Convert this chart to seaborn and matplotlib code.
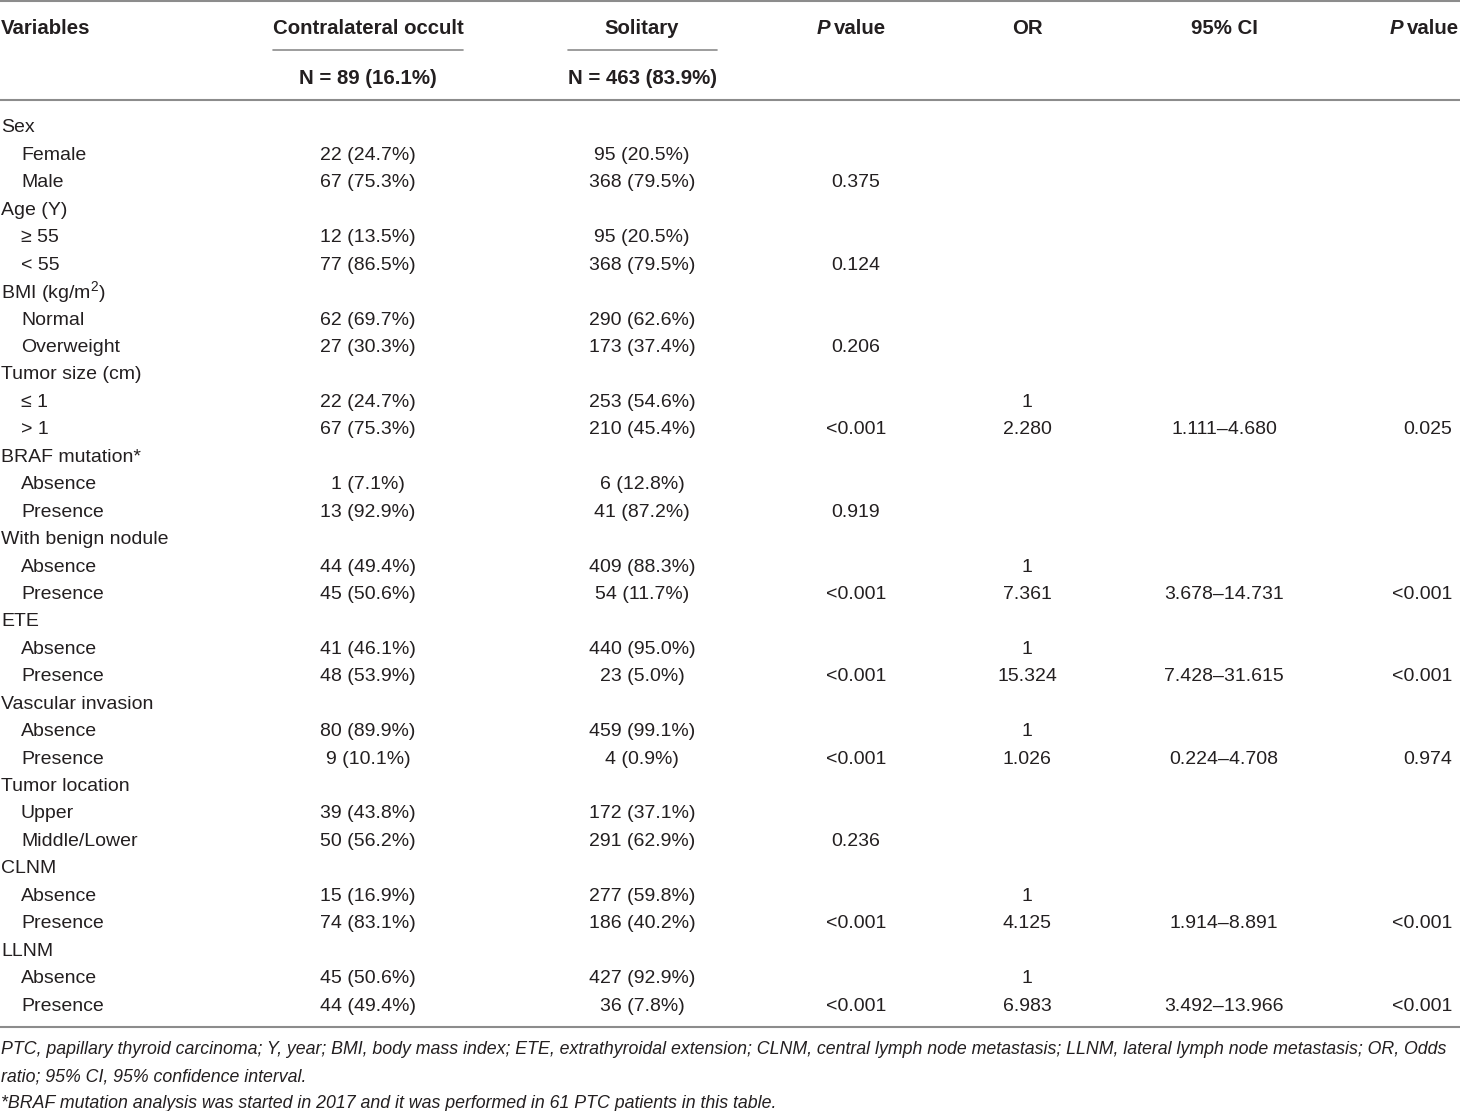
import matplotlib
matplotlib.use("Agg")
import matplotlib.pyplot as plt
import seaborn as sns

sns.set_theme(style="white")
plt.rcParams["font.family"] = ["Liberation Sans", "DejaVu Sans"]
plt.rcParams["mathtext.fontset"] = "custom"
plt.rcParams["mathtext.rm"] = "Liberation Sans"

labels = ["Sex", "Female", "Male",
          "Age (Y)", "\u2265 55", "< 55",
          "BMI (kg/m$^2$)", "Normal", "Overweight",
          "Tumor size (cm)", "\u2264 1", "> 1",
          "BRAF mutation*", "Absence", "Presence",
          "With benign nodule", "Absence", "Presence",
          "ETE", "Absence", "Presence",
          "Vascular invasion", "Absence", "Presence",
          "Tumor location", "Upper", "Middle/Lower",
          "CLNM", "Absence", "Presence",
          "LLNM", "Absence", "Presence"]
contra = ["", "22 (24.7%)", "67 (75.3%)",
          "", "12 (13.5%)", "77 (86.5%)",
          "", "62 (69.7%)", "27 (30.3%)",
          "", "22 (24.7%)", "67 (75.3%)",
          "", "1 (7.1%)", "13 (92.9%)",
          "", "44 (49.4%)", "45 (50.6%)",
          "", "41 (46.1%)", "48 (53.9%)",
          "", "80 (89.9%)", "9 (10.1%)",
          "", "39 (43.8%)", "50 (56.2%)",
          "", "15 (16.9%)", "74 (83.1%)",
          "", "45 (50.6%)", "44 (49.4%)"]
solitary = ["", "95 (20.5%)", "368 (79.5%)",
            "", "95 (20.5%)", "368 (79.5%)",
            "", "290 (62.6%)", "173 (37.4%)",
            "", "253 (54.6%)", "210 (45.4%)",
            "", "6 (12.8%)", "41 (87.2%)",
            "", "409 (88.3%)", "54 (11.7%)",
            "", "440 (95.0%)", "23 (5.0%)",
            "", "459 (99.1%)", "4 (0.9%)",
            "", "172 (37.1%)", "291 (62.9%)",
            "", "277 (59.8%)", "186 (40.2%)",
            "", "427 (92.9%)", "36 (7.8%)"]
p_uni = ["", "", "0.375",
         "", "", "0.124",
         "", "", "0.206",
         "", "", "<0.001",
         "", "", "0.919",
         "", "", "<0.001",
         "", "", "<0.001",
         "", "", "<0.001",
         "", "", "0.236",
         "", "", "<0.001",
         "", "", "<0.001"]
odds = ["", "", "",
        "", "", "",
        "", "", "",
        "", "1", "2.280",
        "", "", "",
        "", "1", "7.361",
        "", "1", "15.324",
        "", "1", "1.026",
        "", "", "",
        "", "1", "4.125",
        "", "1", "6.983"]
ci = ["", "", "",
      "", "", "",
      "", "", "",
      "", "", "1.111\u20134.680",
      "", "", "",
      "", "", "3.678\u201314.731",
      "", "", "7.428\u201331.615",
      "", "", "0.224\u20134.708",
      "", "", "",
      "", "", "1.914\u20138.891",
      "", "", "3.492\u201313.966"]
p_multi = ["", "", "",
           "", "", "",
           "", "", "",
           "", "", "0.025",
           "", "", "",
           "", "", "<0.001",
           "", "", "<0.001",
           "", "", "0.974",
           "", "", "",
           "", "", "<0.001",
           "", "", "<0.001"]
footnotes = ["PTC, papillary thyroid carcinoma; Y, year; BMI, body mass index; ETE, extrathyroidal extension; CLNM, central lymph node metastasis; LLNM, lateral lymph node metastasis; OR, Odds",
             "ratio; 95% CI, 95% confidence interval.",
             "*BRAF mutation analysis was started in 2017 and it was performed in 61 PTC patients in this table."]

W, H = 1460, 1111
fig = plt.figure(figsize=(W / 100, H / 100), dpi=100)
ax = fig.add_axes([0, 0, 1, 1])
ax.set_xlim(0, W)
ax.set_ylim(H, 0)
ax.axis("off")

txt = "#231f20"
line_c = "#8c8c8c"
fs = 14
hfs = 14.7

# rules
ax.axhline(1, color=line_c, lw=1.5)
ax.axhline(100, color=line_c, lw=1.5)
ax.axhline(1027, color=line_c, lw=1.5)
ax.plot([273, 463], [50, 50], color=line_c, lw=1.2)
ax.plot([568, 717], [50, 50], color=line_c, lw=1.2)

# header
hy = 29
ax.text(1, hy, "Variables", ha="left", va="center", fontsize=hfs, fontweight="bold", color=txt)
ax.text(368, hy, "Contralateral occult", ha="center", va="center", fontsize=hfs, fontweight="bold", color=txt)
ax.text(642, hy, "Solitary", ha="center", va="center", fontsize=hfs, fontweight="bold", color=txt)
ax.text(1027, hy, "OR", ha="center", va="center", fontsize=hfs, fontweight="bold", color=txt)
ax.text(1224, hy, "95% CI", ha="center", va="center", fontsize=hfs, fontweight="bold", color=txt)
for px in [830, 1403]:
    ax.text(px, hy, "P", ha="right", va="center", fontsize=hfs, fontweight="bold", style="italic", color=txt)
    ax.text(px + 4, hy, "value", ha="left", va="center", fontsize=hfs, fontweight="bold", color=txt)
ax.text(368, 78, "N = 89 (16.1%)", ha="center", va="center", fontsize=hfs, fontweight="bold", color=txt)
ax.text(642, 78, "N = 463 (83.9%)", ha="center", va="center", fontsize=hfs, fontweight="bold", color=txt)

# body
y0, step = 128, 27.44
for i, lab in enumerate(labels):
    y = y0 + i * step
    sub = contra[i] != ""
    ax.text(21 if sub else 1, y, lab, ha="left", va="center", fontsize=fs, color=txt)
    ax.text(368, y, contra[i], ha="center", va="center", fontsize=fs, color=txt)
    ax.text(642, y, solitary[i], ha="center", va="center", fontsize=fs, color=txt)
    ax.text(856, y, p_uni[i], ha="center", va="center", fontsize=fs, color=txt)
    ax.text(1027, y, odds[i], ha="center", va="center", fontsize=fs, color=txt)
    ax.text(1224, y, ci[i], ha="center", va="center", fontsize=fs, color=txt)
    ax.text(1452, y, p_multi[i], ha="right", va="center", fontsize=fs, color=txt)

for j, note in enumerate(footnotes):
    ax.text(1, 1050 + j * 26.5, note, ha="left", va="center", fontsize=12.8, style="italic", color=txt)

fig.savefig("out.png", dpi=100)
